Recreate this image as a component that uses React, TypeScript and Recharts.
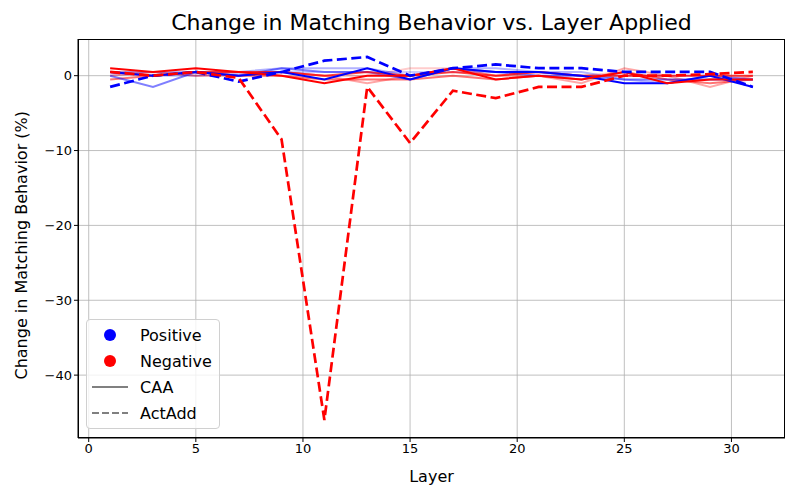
import { LineChart, Line, XAxis, YAxis, CartesianGrid } from "recharts";

const FONT = "DejaVu Sans, sans-serif";

const layers = [1, 3, 5, 7, 9, 11, 13, 15, 17, 19, 21, 23, 25, 27, 29, 31];

// CAA (solid), several runs per direction
const posCaaA = [0.5, 0, 0.5, 0, 0.5, -0.5, 1, -0.5, 1, 0.5, 0.5, 0, -1, -1, 0, -1.5];
const posCaaB = [0, -1.5, 0.5, 0, 1, 0.5, 0.5, -0.5, 1, 0.5, 0, 0, -0.5, -0.5, -0.5, -0.5];
const posCaaC = [0.5, 0.5, 0.5, 0.5, 1, 1, 1, 0, 1, 1, 0.5, 0.5, -0.5, -1, 0, -0.5];
const posCaaD = [0.3, 0, 0, 0.3, 0.5, 0.5, 0.5, 0.5, 0.5, 0.5, 0.5, 0, 0, 0, 0, -0.5];

const negCaaA = [1, 0.5, 1, 0.5, 0, -1, 0, 0, 1, -0.5, 0, -0.5, 0.5, -1, -0.5, -0.5];
const negCaaB = [0.5, 0, 0.5, 0.5, 0.5, 0, 0.5, 0, 0.5, 0, 0.5, 0, 0, 0, 0, 0];
const negCaaC = [-0.5, 0, 0.5, 0, 0, -0.5, -0.5, -0.5, 0, -0.5, 0, -0.5, 0.5, -0.5, -1, -0.5];
const negCaaD = [0, 0.5, 0, 0, 0.5, 0, -1, 0, 1, 0, 0, -1, 1, 0, -1.5, 0];
const negCaaE = [0.5, 0.5, 0, 0.5, 0.5, 0, 0, 1, 1, 0, 0.5, 0, 0.5, -0.5, -0.5, 0];

// ActAdd (dashed)
const posActAdd = [-1.5, 0, 0.5, -0.8, 0.5, 2, 2.5, 0, 1, 1.5, 1, 1, 0.5, 0.5, 0.5, -1.5];
const negActAdd = [0.5, 0, 0.5, -0.3, -8.5, -46, -1.5, -9, -2, -3, -1.5, -1.5, 0, 0, 0.2, 0.5];

const xTicks = [0, 5, 10, 15, 20, 25, 30];
const yTicks = [-40, -30, -20, -10, 0];

const data = layers.map((layer, i) => ({
  layer,
  posCaaA: posCaaA[i],
  posCaaB: posCaaB[i],
  posCaaC: posCaaC[i],
  posCaaD: posCaaD[i],
  negCaaA: negCaaA[i],
  negCaaB: negCaaB[i],
  negCaaC: negCaaC[i],
  negCaaD: negCaaD[i],
  negCaaE: negCaaE[i],
  posActAdd: posActAdd[i],
  negActAdd: negActAdd[i],
}));

const solidSeries = [
  { key: "negCaaE", color: "#ff0000", opacity: 0.2 },
  { key: "negCaaD", color: "#ff0000", opacity: 0.35 },
  { key: "posCaaD", color: "#0000ff", opacity: 0.2 },
  { key: "posCaaC", color: "#0000ff", opacity: 0.3 },
  { key: "negCaaC", color: "#ff0000", opacity: 0.55 },
  { key: "posCaaB", color: "#0000ff", opacity: 0.5 },
  { key: "negCaaB", color: "#ff0000", opacity: 0.75 },
  { key: "posCaaA", color: "#0000ff", opacity: 1 },
  { key: "negCaaA", color: "#ff0000", opacity: 1 },
];

const tick = { fill: "#000", fontSize: 13, fontFamily: FONT };
const minus = (v: number) => String(v).replace("-", "\u2212");

function LegendBox() {
  const row = { display: "flex", alignItems: "center", height: 26 } as const;
  const label = { fontSize: 16, fontFamily: FONT, color: "#000", marginLeft: 12 };
  return (
    <div
      style={{
        position: "absolute",
        left: 86,
        top: 319,
        width: 134,
        height: 110,
        border: "1px solid #d0d0d0",
        borderRadius: 4,
        background: "rgba(255,255,255,0.8)",
        padding: "2px 0 0 5px",
        boxSizing: "border-box",
      }}
    >
      <div style={row}>
        <svg width={36} height={12}>
          <circle cx={18} cy={6} r={6} fill="#0000ff" />
        </svg>
        <span style={label}>Positive</span>
      </div>
      <div style={row}>
        <svg width={36} height={12}>
          <circle cx={18} cy={6} r={6} fill="#ff0000" />
        </svg>
        <span style={label}>Negative</span>
      </div>
      <div style={row}>
        <svg width={36} height={4}>
          <line x1={0} y1={2} x2={36} y2={2} stroke="#808080" strokeWidth={2} />
        </svg>
        <span style={label}>CAA</span>
      </div>
      <div style={row}>
        <svg width={36} height={4}>
          <line x1={0} y1={2} x2={36} y2={2} stroke="#808080" strokeWidth={2} strokeDasharray="7 3" />
        </svg>
        <span style={label}>ActAdd</span>
      </div>
    </div>
  );
}

export default function App() {
  return (
    <div style={{ position: "absolute", left: 0, top: 0, width: 800, height: 500, background: "#fff" }}>
      <div
        style={{
          position: "absolute",
          top: 10,
          left: 0,
          width: 863,
          textAlign: "center",
          fontFamily: FONT,
          fontSize: 22,
          color: "#000",
        }}
      >
        Change in Matching Behavior vs. Layer Applied
      </div>
      <LineChart width={800} height={500} data={data} margin={{ top: 39, right: 15, bottom: 32, left: 18 }}>
        <CartesianGrid stroke="#b0b0b0" strokeWidth={0.8} horizontalValues={yTicks} verticalValues={xTicks} />
        <XAxis
          dataKey="layer"
          type="number"
          domain={[-0.5, 32.5]}
          ticks={xTicks}
          allowDataOverflow
          height={30}
          stroke="#000"
          tick={tick}
          tickSize={4}
          tickFormatter={minus}
          label={{ value: "Layer", position: "insideBottom", offset: -14, fontSize: 16, fontFamily: FONT, fill: "#000" }}
        />
        <YAxis
          type="number"
          domain={[-48.4, 4.9]}
          ticks={yTicks}
          allowDataOverflow
          width={60}
          stroke="#000"
          tick={tick}
          tickSize={4}
          tickFormatter={minus}
          label={{ value: "Change in Matching Behavior (%)", angle: -90, position: "insideLeft", offset: 3, dy: 141, fontSize: 16, fontFamily: FONT, fill: "#000" }}
        />
        {solidSeries.map((s) => (
          <Line
            key={s.key}
            dataKey={s.key}
            stroke={s.color}
            strokeOpacity={s.opacity}
            strokeWidth={2}
            dot={false}
            isAnimationActive={false}
          />
        ))}
        <Line dataKey="posActAdd" stroke="#0000ff" strokeWidth={2.7} strokeDasharray="10 4.5" dot={false} isAnimationActive={false} />
        <Line dataKey="negActAdd" stroke="#ff0000" strokeWidth={2.7} strokeDasharray="10 4.5" dot={false} isAnimationActive={false} />
      </LineChart>
      {/* axes frame */}
      <div
        style={{
          position: "absolute",
          left: 78,
          top: 39,
          width: 707,
          height: 399,
          border: "1px solid #000",
          boxSizing: "border-box",
          pointerEvents: "none",
        }}
      />
      <LegendBox />
    </div>
  );
}
